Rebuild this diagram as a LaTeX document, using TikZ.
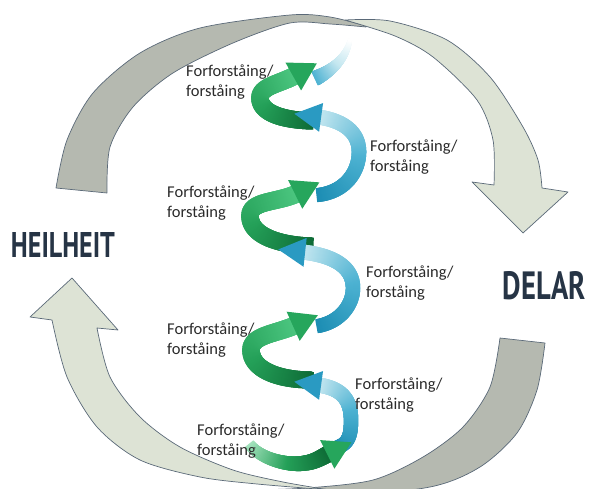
\documentclass[tikz,border=0pt]{standalone}
\usepackage{fontspec}
\setmainfont{Carlito}
\newfontfamily\headfont{PT Sans}
\usetikzlibrary{decorations.markings}
\definecolor{arcdark}{HTML}{B5B9B0}
\definecolor{arclight}{HTML}{DDE3D5}
\definecolor{arcline}{HTML}{5A6978}
\definecolor{headtext}{HTML}{263445}
\definecolor{lbltext}{HTML}{2A2A2A}
\definecolor{gA}{HTML}{0E6B36}
\definecolor{gB}{HTML}{24A058}
\definecolor{gC}{HTML}{4CC680}
\definecolor{gH}{HTML}{26A65C}
\definecolor{gL}{HTML}{A5E3BE}
\definecolor{bA}{HTML}{1C8DB3}
\definecolor{bB}{HTML}{4DB2D2}
\definecolor{bC}{HTML}{C4E7F0}
\definecolor{bH}{HTML}{2A9AC2}
\newcommand\hxstep{%
  \pgfmathsetmacro\hxT{100*\pgfkeysvalueof{/pgf/decoration/mark info/distance from start}/\pgfdecoratedpathlength}%
  \pgfmathsetmacro\hxU{max(0,min(100,2*\hxT))}%
  \pgfmathsetmacro\hxV{max(0,min(100,2*\hxT-100))}%
  \ifdim\hxT pt<50pt \colorlet{hxcol}{\hxB!\hxU!\hxA}\else\colorlet{hxcol}{\hxC!\hxV!\hxB}\fi
  \pgfmathsetmacro\hxW{(\hxWs+(\hxWe-\hxWs)*\hxT/100)/2}%
  \fill[hxcol] (-1.6,-\hxW) rectangle (1.6,\hxW);%
}
\begin{document}
\begin{tikzpicture}[x=1pt,y=-1pt,
  hxA/.store in=\hxA, hxB/.store in=\hxB, hxC/.store in=\hxC,
  hxws/.store in=\hxWs, hxwe/.store in=\hxWe,
  hxhead/.store in=\hxH, hxaw/.store in=\hxAw, hxal/.store in=\hxAl,
  hxband/.style={postaction={decorate,decoration={markings,
     mark=between positions 0 and 1 step 0.008 with {\hxstep}}}},
  hxarrow/.style={hxband, postaction={decorate,decoration={markings,
     mark=at position 0.999 with {\fill[\hxH] (-3,-\hxAw/2) -- (\hxAl,0) -- (-3,\hxAw/2) -- cycle;}}}},
  green arrow/.style={hxarrow, hxA=gA, hxB=gB, hxC=gC, hxhead=gH, hxws=17, hxwe=18, hxaw=32, hxal=24},
  blue arrow/.style={hxarrow, hxA=bA, hxB=bB, hxC=bC, hxhead=bH, hxws=14, hxwe=15, hxaw=29, hxal=24},
  darkarc/.style={fill=arcdark, draw=arcline, line width=0.7pt, line join=round},
  lightarc/.style={fill=arclight, draw=arcline, line width=0.7pt, line join=round},
  lbl/.style={font=\fontsize{16.5}{20.5}\selectfont, align=left, inner sep=0pt, anchor=west, text=lbltext},
  headlbl/.style={font=\headfont\bfseries, inner sep=0pt, text=headtext}
]
\useasboundingbox (0,0) rectangle (589,489);
\clip (0,0) rectangle (589,489);
% big loop arrows
\path[darkarc] plot[smooth] coordinates {(56,188) (67,140) (93,93) (140,53) (200,28) (290,15) (330,17) (366,26)}
  -- plot[smooth] coordinates {(366,27) (330,24) (290,23) (233,43) (173,73) (133,107) (110,147) (107,193)} -- cycle;
\path[lightarc] plot[smooth] coordinates {(345,20) (390,21) (447,40) (490,77) (523,127) (538,160) (542,188)}
  -- (568,192) -- (523,233) -- (472,182) -- (494,185)
  -- plot[smooth] coordinates {(494,185) (493,140) (477,100) (433,57) (395,36) (345,20)} -- cycle;
\path[darkarc] plot[smooth] coordinates {(500,338) (490,387) (463,427) (423,457) (373,480) (307,488) (250,490)}
  -- plot[smooth] coordinates {(250,490) (330,497) (430,487) (480,467) (517,433) (537,390) (545,343)} -- cycle;
\path[lightarc] plot[smooth] coordinates {(330,490) (257,484) (200,477) (140,460) (97,427) (67,377) (52,320)}
  -- (30,317) -- (72,278) -- (118,330) -- (97,328)
  -- plot[smooth] coordinates {(97,328) (110,377) (140,417) (180,447) (233,470) (283,482) (330,490)} -- cycle;
% helix
\path[hxband, hxA=bB, hxB=bC, hxC=white, hxws=15, hxwe=4] (316,78) .. controls (333,70) and (346,58) .. (350,40);
\path[green arrow] (312,121) .. controls (280,120) and (260,112) .. (260,98) .. controls (260,86) and (280,84) .. (296,75);
\path[blue arrow] (318,195) .. controls (345,192) and (359,172) .. (359,152) .. controls (359,130) and (340,120) .. (318,117);
\path[green arrow] (312,246) .. controls (275,245) and (250,234) .. (250,216) .. controls (250,200) and (278,203) .. (298,193);
\path[blue arrow] (318,326) .. controls (340,322) and (353,305) .. (353,288) .. controls (353,265) and (330,255) .. (302,252);
\path[green arrow] (312,380) .. controls (275,380) and (251,368) .. (251,350) .. controls (251,335) and (276,334) .. (296,325);
\path[blue arrow] (338,447) .. controls (350,443) and (351,432) .. (351,420) .. controls (351,398) and (340,388) .. (318,385);
\path[green arrow, hxA=gL, hxB=gB, hxC=gA, hxws=11, hxwe=17] (250,445) .. controls (262,460) and (290,466) .. (305,463) .. controls (315,462) and (322,457) .. (330,453);
% labels
\node[lbl] (l1) at (186,82) {Forforståing/\\forståing};
\node[lbl] (l2) at (370,157) {Forforståing/\\forståing};
\node[lbl] (l3) at (167,203) {Forforståing/\\forståing};
\node[lbl] (l4) at (366,283) {Forforståing/\\forståing};
\node[lbl] (l5) at (167,340) {Forforståing/\\forståing};
\node[lbl] (l6) at (355,395) {Forforståing/\\forståing};
\node[lbl] (l7) at (197,441) {Forforståing/\\forståing};
\node[headlbl] (heil) at (63,245.5) {\resizebox{104pt}{25pt}{HEILHEIT}};
\node[headlbl] (delar) at (544.5,286) {\resizebox{83pt}{28pt}{DELAR}};
\end{tikzpicture}
\end{document}
